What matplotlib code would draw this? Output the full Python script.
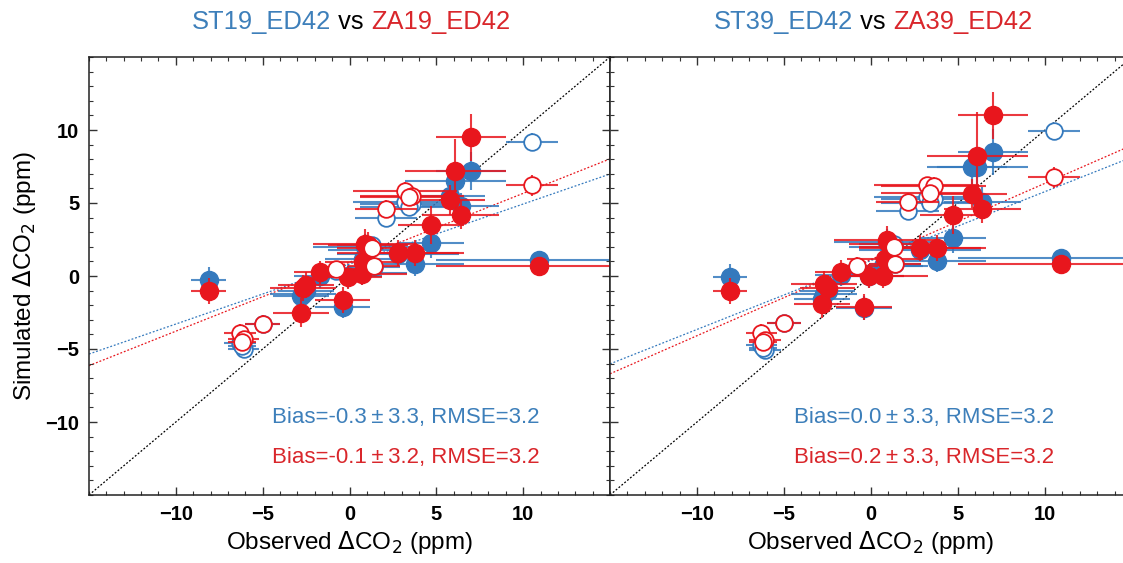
import matplotlib
matplotlib.use('Agg')
import matplotlib.pyplot as plt
import numpy as np
from matplotlib.ticker import MultipleLocator

plt.rcParams['font.family'] = ['Liberation Sans', 'DejaVu Sans']

# ---------------- data ----------------
obs_x = [-8.1, -6.3, -6.1, -6.2, -5.0, -2.7, -2.5, -2.8, -1.7, -0.8,
         -0.4, -0.1, 0.7, 0.8, 0.9, 1.05, 1.4, 1.3, 2.8, 3.8,
         4.7, 10.9, 2.1, 3.2, 3.6, 3.4, 5.8, 6.4, 6.1, 7.0, 10.5]
obs_xerr = [1.0, 0.9, 0.9, 0.8, 1.0, 1.9, 1.6, 1.6, 1.5, 1.2,
            1.6, 2.0, 2.6, 2.2, 3.0, 2.3, 1.5, 2.0, 3.5, 2.8,
            1.9, 5.9, 1.8, 3.0, 3.0, 2.8, 2.0, 2.2, 2.9, 2.0, 1.5]
obs_open = [False, True, True, True, True, False, False, False, False, True,
            False, False, False, False, False, False, True, True, False, False,
            False, False, True, True, True, True, False, False, False, False, True]

st19_y = [-0.25, -4.6, -5.0, -4.8, -3.3, -1.2, -1.0, -1.4, 0.0, 0.35,
          -2.1, 0.0, 0.2, 1.15, 2.0, 1.8, 0.6, 2.1, 1.5, 0.8,
          2.25, 1.1, 4.0, 5.05, 4.9, 4.7, 5.5, 4.8, 6.5, 7.2, 9.2]
za19_y = [-1.05, -3.9, -4.3, -4.5, -3.3, -0.8, -0.6, -2.5, 0.25, 0.45,
          -1.65, -0.1, 0.15, 0.95, 2.2, 2.1, 0.7, 1.9, 1.6, 1.6,
          3.5, 0.7, 4.6, 5.85, 5.5, 5.4, 5.2, 4.2, 7.2, 9.5, 6.2]
st39_y = [-0.1, -4.7, -5.05, -4.9, -3.25, -1.25, -1.0, -1.6, 0.1, 0.6,
          -2.2, 0.0, 0.7, 0.7, 2.3, 2.0, 0.8, 2.2, 1.8, 1.05,
          2.6, 1.2, 4.45, 5.4, 5.3, 5.0, 7.5, 5.1, 7.5, 8.5, 9.9]
za39_y = [-1.05, -3.9, -4.35, -4.55, -3.25, -0.55, -0.8, -1.9, 0.3, 0.7,
          -2.1, 0.0, 0.0, 1.15, 2.45, 2.2, 0.8, 2.0, 1.9, 1.9,
          4.2, 0.8, 5.1, 6.2, 6.15, 5.7, 5.65, 4.6, 8.2, 11.0, 6.75]

st19_yerr = [0.9, 0.6, 0.6, 0.6, 0.6, 0.8, 0.8, 0.8, 0.8, 0.6,
             0.8, 0.8, 0.8, 0.8, 0.9, 0.8, 0.6, 0.6, 0.8, 0.8,
             1.0, 0.6, 0.6, 0.6, 0.6, 0.6, 0.9, 0.9, 1.2, 1.3, 0.6]
za19_yerr = [0.9, 0.6, 0.6, 0.6, 0.6, 0.9, 0.9, 1.0, 0.8, 0.6,
             0.9, 0.8, 0.8, 0.9, 1.0, 0.9, 0.6, 0.6, 0.9, 0.9,
             1.3, 0.6, 0.6, 0.6, 0.6, 0.6, 1.0, 1.0, 2.2, 1.6, 0.7]
st39_yerr = [0.9, 0.6, 0.6, 0.6, 0.6, 0.8, 0.8, 0.8, 0.8, 0.6,
             0.8, 0.8, 0.8, 0.8, 0.9, 0.8, 0.6, 0.6, 0.8, 0.8,
             1.0, 0.6, 0.6, 0.6, 0.6, 0.6, 1.2, 1.0, 1.2, 1.6, 0.6]
za39_yerr = [0.9, 0.6, 0.6, 0.6, 0.6, 0.9, 0.9, 1.0, 0.8, 0.6,
             0.9, 0.8, 0.8, 0.9, 1.0, 0.9, 0.6, 0.6, 0.9, 0.9,
             1.3, 0.6, 0.6, 0.6, 0.6, 0.6, 1.0, 1.0, 3.0, 1.6, 0.7]

# regression fits: (slope, intercept)
fit_st19 = (0.411, 0.82)
fit_za19 = (0.472, 0.94)
fit_st39 = (0.472, 1.06)
fit_za39 = (0.522, 1.13)

titles = [("ST19_ED42", "ZA19_ED42"), ("ST39_ED42", "ZA39_ED42")]
stats = [("Bias=-0.3\u2009\u00b1\u20093.3, RMSE=3.2", "Bias=-0.1\u2009\u00b1\u20093.2, RMSE=3.2"),
         ("Bias=0.0\u2009\u00b1\u20093.3, RMSE=3.2", "Bias=0.2\u2009\u00b1\u20093.3, RMSE=3.2")]

LIM = (-15, 15)
XTICKS = [-10, -5, 0, 5, 10]
YTICKS = [-10, -5, 0, 5, 10]

BLUE = '#3479bd'
RED = '#e8161d'
TBLUE = '#3d7fba'
TRED = '#d9262b'

# ---------------- figure ----------------
W, H = 1123, 563
fig = plt.figure(figsize=(W / 100, H / 100), dpi=100)
top_px, bot_px = 57, 495
axL = fig.add_axes([89 / W, (H - bot_px) / H, (610 - 89) / W, (bot_px - top_px) / H])
axR = fig.add_axes([610 / W, (H - bot_px) / H, (1132 - 610) / W, (bot_px - top_px) / H])

x = np.array(obs_x)
xe = np.array(obs_xerr)
op = np.array(obs_open)


def draw_panel(ax, sty, stye, zay, zaye, fst, fza, stat, show_ylabels):
    xx = np.array(LIM, dtype=float)
    ax.plot(xx, xx, color='black', lw=0.9, ls=(0, (1.5, 1.5)), zorder=1)
    ax.plot(xx, fst[0] * xx + fst[1], color=BLUE, lw=0.9, ls=(0, (1.5, 1.5)), zorder=1)
    ax.plot(xx, fza[0] * xx + fza[1], color=RED, lw=0.9, ls=(0, (1.5, 1.5)), zorder=1)

    for (yv, ye, col, z) in [(sty, stye, BLUE, 2), (zay, zaye, RED, 4)]:
        yv = np.array(yv)
        ye = np.array(ye)
        ax.errorbar(x, yv, xerr=xe, yerr=ye, fmt='none', ecolor=col, elinewidth=1.5,
                    capsize=0, zorder=z, alpha=0.85)
        ax.plot(x[~op], yv[~op], 'o', ms=13, mfc=col, mec=col, zorder=z + 0.5)
        ax.plot(x[op], yv[op], 'o', ms=12, mfc='white', mec=col, mew=1.3, zorder=z + 0.5)

    ax.set_xlim(*LIM)
    ax.set_ylim(*LIM)
    ax.set_xticks(XTICKS)
    ax.set_yticks(YTICKS)
    ax.xaxis.set_minor_locator(MultipleLocator(1))
    ax.yaxis.set_minor_locator(MultipleLocator(1))
    ax.tick_params(which='both', direction='in', top=True, right=True, colors='#333333')
    ax.tick_params(which='major', length=6, width=1.0, labelsize=14.5, pad=7,
                   labelcolor='black')
    ax.tick_params(which='minor', length=3, width=0.8)
    for lab in ax.get_xticklabels() + ax.get_yticklabels():
        lab.set_fontweight('bold')
    if not show_ylabels:
        ax.tick_params(axis='y', labelleft=False)
    for sp in ax.spines.values():
        sp.set_linewidth(1.1)
        sp.set_color('#222222')
    ax.set_xlabel('Observed $\\Delta$CO$_2$ (ppm)', fontsize=17.5, labelpad=4)
    ax.text(-4.45, -9.7, stat[0], color=TBLUE, fontsize=16, ha='left', va='center', zorder=6)
    ax.text(-4.45, -12.4, stat[1], color=TRED, fontsize=16, ha='left', va='center', zorder=6)


draw_panel(axL, st19_y, st19_yerr, za19_y, za19_yerr, fit_st19, fit_za19, stats[0], True)
draw_panel(axR, st39_y, st39_yerr, za39_y, za39_yerr, fit_st39, fit_za39, stats[1], False)
axL.set_ylabel('Simulated $\\Delta$CO$_2$ (ppm)', fontsize=17.5, labelpad=5)


def multicolor_title(xc, parts, y_px, fs=18.4):
    renderer = fig.canvas.get_renderer()
    widths = []
    tmp = []
    for s, c in parts:
        t = fig.text(0, 0, s, fontsize=fs)
        widths.append(t.get_window_extent(renderer).width)
        tmp.append(t)
    for t in tmp:
        t.remove()
    total = sum(widths)
    xs = xc - total / 2
    for (s, c), w in zip(parts, widths):
        fig.text(xs / W, 1 - y_px / H, s, color=c, fontsize=fs, ha='left', va='center')
        xs += w


fig.canvas.draw()
multicolor_title(351, [(titles[0][0], TBLUE), (' vs ', 'black'), (titles[0][1], TRED)], 22)
multicolor_title(873, [(titles[1][0], TBLUE), (' vs ', 'black'), (titles[1][1], TRED)], 22)

fig.savefig('out.png', dpi=100)
